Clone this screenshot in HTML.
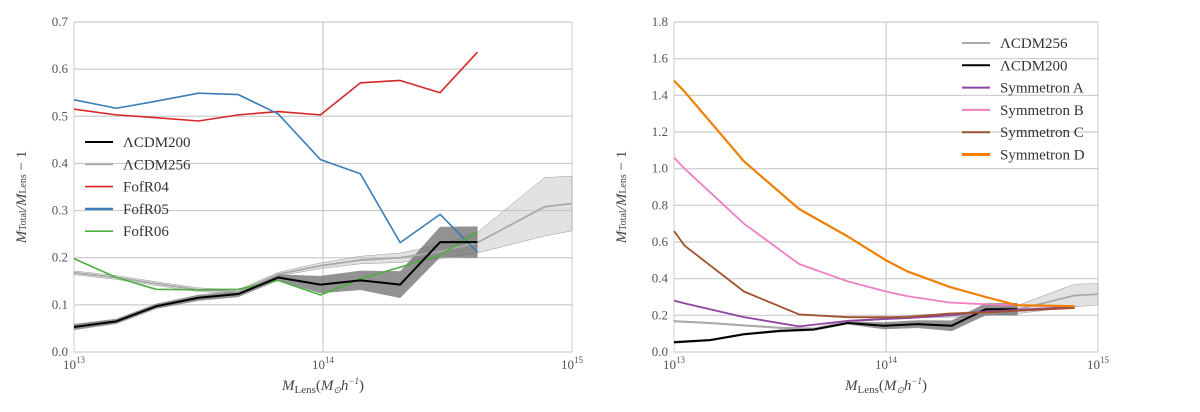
<!DOCTYPE html>
<html><head><meta charset="utf-8">
<style>
html,body{margin:0;padding:0;background:#fff;}
svg{display:block;font-family:"Liberation Serif",serif;}
.tick{font-size:13px;fill:#555;}
.leg{font-size:15px;fill:#333;}
</style></head>
<body>
<svg id="chart" width="1200" height="412" viewBox="0 0 1200 412" xmlns="http://www.w3.org/2000/svg"></svg>
<script>
// ---- data ----
const massL = [13.0,13.17,13.33,13.5,13.66,13.82,13.99,14.15,14.31,14.47,14.62];
const fofR04 = [0.515,0.503,0.497,0.490,0.503,0.510,0.503,0.571,0.576,0.550,0.636];
const fofR05 = [0.535,0.517,0.532,0.549,0.546,0.505,0.408,0.378,0.232,0.292,0.212];
const fofR06 = [0.198,0.158,0.133,0.132,0.133,0.152,0.121,0.155,0.180,0.205,0.255];
const lcdm200 = [0.053,0.065,0.097,0.115,0.123,0.158,0.143,0.152,0.143,0.233,0.233];
const lcdm200Err = [0.006,0.005,0.005,0.006,0.006,0.006,0.018,0.02,0.028,0.032,0.033];
const mass256 = [13.0,13.17,13.33,13.5,13.66,13.82,13.99,14.15,14.31,14.47,14.62,14.89,15.0];
const lcdm256 = [0.168,0.158,0.145,0.132,0.128,0.165,0.183,0.195,0.200,0.213,0.232,0.308,0.315];
const lcdm256Err = [0.004,0.004,0.004,0.004,0.004,0.004,0.006,0.008,0.01,0.015,0.022,0.062,0.058];
const massR = [13.0,13.05,13.33,13.59,13.82,14.0,14.1,14.3,14.47,14.62,14.89];
const symA = [0.280,0.265,0.190,0.140,0.170,0.180,0.185,0.200,0.220,0.230,0.245];
const symB = [1.060,1.000,0.700,0.480,0.385,0.330,0.305,0.270,0.260,0.255,0.250];
const symC = [0.660,0.580,0.330,0.205,0.190,0.190,0.190,0.210,0.215,0.225,0.240];
const symD = [1.480,1.420,1.040,0.780,0.630,0.500,0.440,0.355,0.300,0.255,0.250];
const yTicksL = [0,0.1,0.2,0.3,0.4,0.5,0.6,0.7];
const yTicksR = [0,0.2,0.4,0.6,0.8,1.0,1.2,1.4,1.6,1.8];

const svg = document.getElementById('chart');
const NS = 'http://www.w3.org/2000/svg';
function mk(tag, attrs, parent){const e=document.createElementNS(NS,tag);for(const k in attrs)e.setAttribute(k,attrs[k]);(parent||svg).appendChild(e);return e;}

function panel(cfg){
  const g = mk('g',{});
  
  
  const X = v => cfg.x0 + (v-13)/2*(cfg.x1-cfg.x0);
  const Y = v => cfg.y0 - v/cfg.ymax*(cfg.y0-cfg.y1);
  cfg.yTicks.forEach(t=>{
    const l=mk('line',{x1:cfg.x0,x2:cfg.x1,y1:Y(t),y2:Y(t),stroke:'#ccc','stroke-width':1.2},g);
    
    
    const tx=mk('text',{x:cfg.x0-6,y:Y(t)+4,'text-anchor':'end',class:'tick'},g);
    tx.textContent=t.toFixed(1);
    
    
  });
  mk('line',{x1:X(14),x2:X(14),y1:cfg.y1,y2:cfg.y0,stroke:'#ccc','stroke-width':1.2},g);
  mk('rect',{x:cfg.x0,y:cfg.y1,width:cfg.x1-cfg.x0,height:cfg.y0-cfg.y1,fill:'none',stroke:'#ccc','stroke-width':1},g);
  [[13,'13'],[14,'14'],[15,'15']].forEach(([v,e])=>{
    const t=mk('text',{x:X(v),y:cfg.y0+17,'text-anchor':'middle',class:'tick'},g);
    
    
    t.innerHTML='10<tspan dy="-6" font-size="9">'+e+'</tspan>';
  });
  const xl=mk('text',{x:(cfg.x0+cfg.x1)/2,y:390,'text-anchor':'middle','font-size':'15','fill':'#444','font-style':'italic'},g);
  
  
  xl.innerHTML='M<tspan font-size="11" dy="3" font-style="normal">Lens</tspan><tspan dy="-3" font-style="normal">(</tspan>M<tspan font-size="9" dy="3">⊙</tspan><tspan dy="-3">h</tspan><tspan font-size="9" dy="-6">−1</tspan><tspan dy="6" font-style="normal">)</tspan>';
  const yl=mk('text',{transform:'translate('+(cfg.x0-48)+','+((cfg.y0+cfg.y1)/2+10)+') rotate(-90)','text-anchor':'middle','font-size':'15','fill':'#444','font-style':'italic'},g);
  
  
  yl.innerHTML='M<tspan font-size="10" font-style="normal">Total</tspan>/M<tspan font-size="10" font-style="normal">Lens</tspan><tspan font-style="normal"> − 1</tspan>';
  function band(xs,ys,es,fill,name){
    let d='';xs.forEach((x,i)=>d+=(i?'L':'M')+X(x)+','+Y(ys[i]+es[i]));
    for(let i=xs.length-1;i>=0;i--)d+='L'+X(xs[i])+','+Y(ys[i]-es[i]);
    const p=mk('path',{d:d+'Z',fill:fill,stroke:'#999','stroke-width':0.5},g);
    
    
  }
  function line(xs,ys,col,w,name){
    const p=mk('polyline',{points:xs.map((x,i)=>X(x)+','+Y(ys[i])).join(' '),fill:'none',stroke:col,'stroke-width':w,'stroke-linejoin':'round'},g);
    
    
  }
  cfg.series(band,line);
  cfg.legend.forEach((s,i)=>{
    const y=cfg.ly+i*22.3;
    const l=mk('line',{x1:cfg.lx,x2:cfg.lx+28,y1:y,y2:y,stroke:s[1],'stroke-width':s[2]},g);
    
    
    const t=mk('text',{x:cfg.lx+38,y:y+5,class:'leg'},g);
    t.textContent=s[0];
    
    
  });
}
panel({name:'left-panel',x0:74,x1:572,y0:352,y1:22,ymax:0.7,yTicks:yTicksL,lx:85,ly:142,
  series:(band,line)=>{
    band(mass256,lcdm256,lcdm256Err,'rgba(190,190,190,0.45)','lcdm256-band');
    band(massL,lcdm200,lcdm200Err,'rgba(110,110,110,0.75)','lcdm200-band');
    line(mass256,lcdm256,'#aaa',1.8,'lcdm256-line');
    line(massL,fofR04,'#d62728',1.6,'fofr04-line');
    line(massL,fofR05,'#3a7db8',1.6,'fofr05-line');
    line(massL,fofR06,'#4caf3f',1.6,'fofr06-line');
    line(massL,lcdm200,'#000',2,'lcdm200-line');
  },
  legend:[['ΛCDM200','#000',2],['ΛCDM256','#aaa',2],['FofR04','#d62728',1.6],['FofR05','#3a7db8',2.4],['FofR06','#4caf3f',1.6]]});
panel({name:'right-panel',x0:674,x1:1098,y0:352,y1:22,ymax:1.8,yTicks:yTicksR,lx:962,ly:43,
  series:(band,line)=>{
    band(mass256,lcdm256,lcdm256Err,'rgba(190,190,190,0.45)','lcdm256-band');
    band(massL,lcdm200,lcdm200Err,'rgba(110,110,110,0.75)','lcdm200-band');
    line(mass256,lcdm256,'#aaa',1.8,'lcdm256-line');
    line(massL,lcdm200,'#000',2,'lcdm200-line');
    line(massR,symA,'#8e44a0',1.8,'symmetron-a-line');
    line(massR,symB,'#ef7fc4',1.8,'symmetron-b-line');
    line(massR,symC,'#a0522d',1.8,'symmetron-c-line');
    line(massR,symD,'#f07f00',2.2,'symmetron-d-line');
  },
  legend:[['ΛCDM256','#aaa',2],['ΛCDM200','#000',2],['Symmetron A','#8e44a0',2],['Symmetron B','#ef7fc4',2],['Symmetron C','#a0522d',2],['Symmetron D','#f07f00',3]]});
</script>
</body></html>
